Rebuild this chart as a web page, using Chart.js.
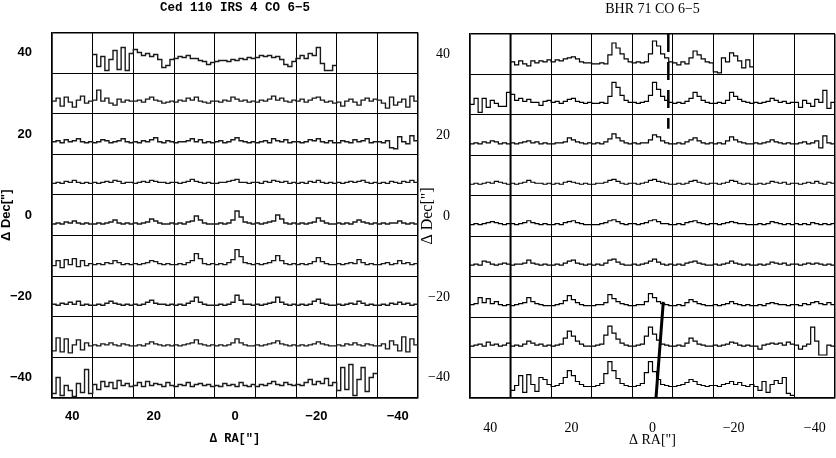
<!DOCTYPE html>
<html><head><meta charset="utf-8">
<script src="https://cdn.jsdelivr.net/npm/chart.js@4.4.1/dist/chart.umd.min.js"></script>
<style>html,body{margin:0;padding:0;background:#fff;overflow:hidden}canvas{position:absolute;top:0}#c1{left:0}#c2{left:420px}</style>
</head><body>
<canvas id="c1" width="420" height="458"></canvas>
<canvas id="c2" width="416" height="458"></canvas>
<script>
// ---- map geometry (arcsec offsets) ----
const RA_CENTERS = [40, 30, 20, 10, 0, -10, -20, -30, -40];
const DEC_CENTERS = [40, 30, 20, 10, 0, -10, -20, -30, -40];
const TICK_LABELS = [40, 20, 0, -20, -40];
const CHANNELS = 10;            // spectral channels per map cell
const T_SCALE = 0.2463;         // arcsec per intensity unit inside a cell
const T_BASE = -2.4;            // baseline offset of the spectrum inside a cell

// ---- Ced 110 IRS 4 CO 6-5 : spectra per map row (10 channels per cell) ----
const CED_START = [1, 0, 0, 0, 0, 0, 0, 0, 0];
const ced_dec40 = [
  8,-4,6,-8,3,12,-7,15,-8,9,  13,10,7,9,6,8,3,-5,-3,3,  4,6,5,7,4,4,2,1,-2,0,
  1,2,2,1,3,2,4,3,5,4,  5,7,6,7,5,6,3,-2,-4,1,  4,7,4,9,7,15,-1,-8,-8,-3];
const ced_dec30 = [
  2,5,-3,6,1,-4,3,7,0,2,  3,13,2,5,0,-2,4,1,3,2,  2,3,1,4,6,3,2,0,1,2,
  1,3,2,5,3,6,2,1,0,2,  2,1,3,2,6,4,2,3,1,2,  1,3,2,4,7,3,5,2,1,3,
  2,4,1,3,5,6,3,1,2,0,  1,-3,2,4,1,-2,3,5,2,4,  3,0,-5,6,-2,1,4,-4,7,2];
const ced_dec20 = [
  2,3,1,4,2,3,5,2,1,2,  1,2,4,3,1,2,3,5,2,1,  2,1,3,2,4,6,2,1,3,2,
  1,2,2,3,5,2,4,1,2,1,  2,3,1,2,4,6,3,2,1,2,  1,2,3,1,5,3,2,4,1,2,
  2,1,2,4,3,5,2,1,3,1,  1,3,2,1,4,2,3,5,1,2,  2,1,3,-4,-5,7,2,0,8,3];
const ced_dec10 = [
  1,2,1,3,2,4,2,1,2,1,  2,1,2,3,2,4,3,1,2,2,  1,2,3,2,4,3,2,2,1,2,
  2,1,2,3,5,3,2,1,2,1,  1,2,2,3,4,5,2,2,1,2,  2,1,3,2,4,3,2,3,1,2,
  1,2,1,3,2,4,2,1,2,1,  2,1,2,3,2,3,4,2,1,2,  1,2,1,3,2,1,3,2,4,2];
const ced_dec0 = [
  1,2,1,3,2,4,2,1,2,1,  1,2,1,2,3,5,2,1,2,1,  2,1,2,3,6,4,2,1,1,2,
  1,2,1,3,4,9,5,2,1,1,  1,2,1,2,5,14,8,3,2,1,  2,1,2,3,4,10,6,2,1,2,
  1,2,1,2,3,7,4,2,1,1,  2,1,2,1,3,5,3,2,1,2,  1,2,1,2,2,4,2,1,2,1];
const ced_decm10 = [
  0,5,-2,6,1,7,-1,5,0,2,  1,2,1,3,2,5,3,1,2,1,  2,1,2,3,5,4,2,1,2,1,
  1,2,1,3,5,12,7,2,1,2,  1,2,1,3,6,16,9,3,2,1,  2,1,2,3,5,10,5,2,1,2,
  1,2,1,2,4,8,4,2,1,1,  2,1,2,3,2,6,3,1,2,1,  1,2,3,1,2,5,2,3,1,2];
const ced_decm20 = [
  2,1,3,2,4,2,5,1,2,1,  1,2,1,3,5,3,2,1,2,1,  2,1,2,4,6,3,2,2,1,2,
  1,2,1,3,5,9,4,2,1,1,  1,2,1,2,4,11,6,2,2,1,  2,1,2,3,4,9,4,2,1,2,
  1,2,1,2,5,7,3,2,1,1,  2,1,2,3,2,5,3,1,2,1,  1,2,1,3,2,4,2,3,1,2];
const ced_decm30 = [
  -4,9,-5,8,-6,2,7,-3,4,1,  2,1,3,2,4,2,1,3,2,1,  1,2,1,3,5,3,2,1,2,1,
  2,1,2,3,4,7,3,2,1,2,  1,2,1,2,4,8,4,2,1,1,  2,1,2,3,4,6,3,2,1,2,
  1,2,1,2,3,5,3,2,1,1,  2,1,3,2,4,2,1,3,2,1,  1,3,-2,6,2,-4,10,-5,8,2];
const ced_decm40 = [
  -6,10,-8,2,-3,-9,4,-5,18,-6,  3,-2,6,1,5,-1,7,2,4,1,  2,5,1,6,2,4,3,1,5,2,
  1,3,2,5,1,3,4,2,3,1,  2,1,4,2,3,1,5,2,1,3,  1,3,2,4,6,3,2,5,3,2,
  3,2,5,8,3,6,4,9,2,5,  -3,20,-2,23,-8,8,20,-4,10,14];
const CED_ROWS = [ced_dec40, ced_dec30, ced_dec20, ced_dec10, ced_dec0, ced_decm10, ced_decm20, ced_decm30, ced_decm40];

// ---- BHR 71 CO 6-5 ----
const BHR_START = [1, 0, 0, 0, 0, 0, 0, 0, 1];
const bhr_dec40 = [
  2,-1,3,0,-2,3,1,3,2,4,  2,4,3,5,6,7,5,2,1,1,  0,0,1,0,9,21,16,10,5,2,
  1,2,1,2,10,23,18,10,6,2,  1,-1,2,0,6,13,9,5,2,1,  -8,-9,6,2,11,8,3,-4,4,-3];
const bhr_dec30 = [
  0,6,-8,6,-3,4,1,-2,-2,12,  10,4,6,3,5,2,2,-1,3,4,  2,3,1,3,5,6,3,2,1,2,
  1,1,2,1,8,22,17,9,4,2,  2,1,2,3,9,22,15,8,4,2,  1,2,1,3,6,12,8,4,2,1,
  1,2,1,4,12,8,5,3,2,1,  2,1,2,3,6,4,2,3,1,2,  2,-3,4,1,-2,5,2,14,-4,2];
const bhr_dec20 = [
  1,2,1,3,2,4,3,1,2,1,  2,1,2,3,4,2,3,1,2,1,  1,2,2,3,7,5,3,2,1,2,
  1,2,1,3,6,11,7,4,2,1,  2,1,2,2,5,10,8,4,2,1,  1,2,1,3,5,7,4,2,1,2,
  1,2,1,4,8,5,3,2,1,1,  2,1,2,3,5,3,2,1,2,1,  1,2,3,1,2,4,-3,9,2,1];
const bhr_dec10 = [
  1,2,1,2,3,2,4,3,2,1,  2,1,2,3,5,3,2,2,1,2,  1,2,1,3,4,3,2,1,2,1,
  1,2,2,3,5,6,4,2,1,2,  2,1,2,3,5,6,4,3,2,1,  1,2,1,2,4,5,3,2,1,2,
  2,1,2,3,5,4,2,1,2,1,  1,2,1,2,4,3,2,3,1,2,  2,1,2,3,2,4,2,1,3,2];
const bhr_dec0 = [
  1,2,1,2,3,4,3,2,1,2,  2,1,2,3,5,3,2,1,2,1,  1,2,1,3,4,5,3,2,1,1,
  1,1,2,3,5,6,4,2,1,2,  2,1,2,3,5,6,4,2,2,1,  1,2,1,3,4,5,3,2,1,2,
  2,1,2,3,4,3,2,2,1,1,  1,2,1,2,4,3,2,1,2,1,  2,1,2,1,3,2,1,2,1,2];
const bhr_decm10 = [
  1,2,1,5,4,2,1,2,3,2,  1,2,2,3,6,3,2,1,2,1,  1,2,1,3,5,6,3,2,1,2,
  1,2,1,3,6,7,4,2,1,1,  2,1,2,3,5,7,4,2,1,2,  1,2,1,3,4,5,3,2,1,1,
  2,1,2,3,5,3,2,1,2,1,  1,2,1,2,4,3,2,3,1,2,  2,1,2,3,2,3,2,1,2,1];
const bhr_decm20 = [
  2,3,9,4,8,3,5,2,1,2,  1,2,3,4,9,5,3,2,1,1,  1,2,3,6,11,7,4,2,1,1,
  1,2,2,4,12,8,5,3,2,1,  1,2,2,5,13,9,5,3,2,1,  1,2,1,4,7,5,3,2,1,1,
  2,1,2,3,5,3,2,1,2,1,  1,2,1,3,4,3,2,2,1,2,  2,1,3,2,4,5,3,2,4,2];
const bhr_decm30 = [
  1,2,3,1,5,2,3,1,2,4,  1,2,1,3,6,4,2,3,1,2,  1,2,3,9,16,11,6,3,1,1,
  1,2,3,12,21,14,8,4,2,1,  1,2,3,11,20,13,7,3,2,1,  1,2,1,4,9,6,3,2,1,1,
  2,1,2,3,5,4,2,1,2,1,  1,-2,2,3,4,3,4,2,5,3,  2,-2,1,3,20,6,-8,-8,2,1];
const bhr_decm40 = [
  -3,2,12,-5,13,3,-4,10,8,3,  1,2,4,10,17,12,6,3,1,1,
  1,2,4,14,26,17,9,4,2,1,  1,2,4,15,26,16,8,3,2,1,  1,2,3,5,8,6,3,2,1,2,
  2,1,3,4,6,3,5,2,1,3,  1,-3,6,-5,3,7,4,10,-6,-8];
const BHR_ROWS = [bhr_dec40, bhr_dec30, bhr_dec20, bhr_dec10, bhr_dec0, bhr_decm10, bhr_decm20, bhr_decm30, bhr_decm40];

// ---- overlay lines in the BHR 71 map (RA, Dec) ----
const BHR_SOLID_RA = [35, 35];      const BHR_SOLID_DEC = [45, -45];
const BHR_DASH_RA = [-3.9, -3.9];   const BHR_DASH_DEC = [45, 21.6];
const BHR_SLANT_RA = [-2.66, -0.86]; const BHR_SLANT_DEC = [-21.25, -45];

function rowPoints(dec, startCol, vals) {
  const pts = [];
  const nCells = vals.length / CHANNELS;
  for (let c = 0; c < nCells; c++) {
    const ra = RA_CENTERS[startCol + c];
    for (let k = 0; k < CHANNELS; k++) {
      pts.push({x: ra + 5 - k * 10 / CHANNELS, y: dec + T_BASE + vals[c * CHANNELS + k] * T_SCALE});
    }
  }
  pts.push({x: RA_CENTERS[startCol + nCells - 1] - 5, y: pts[pts.length - 1].y});
  return pts;
}
function pairs(xs, ys) { return xs.map((x, i) => ({x, y: ys[i]})); }
const fmt = v => (v < 0 ? '\u2212' + Math.abs(v) : String(v));
const isBoundary = v => Math.abs(Math.round(v)) % 10 === 5;
function allTicks(s) { const t = []; for (let v = -45; v <= 45; v += 5) t.push({value: v}); s.ticks = t; }

function makeChart(id, cfg) {
  const datasets = cfg.rows.map((vals, i) => ({
    data: rowPoints(DEC_CENTERS[i], cfg.start[i], vals),
    borderColor: cfg.lineColor, borderWidth: cfg.lineWidth, stepped: true,
    pointRadius: 0, fill: false, tension: 0
  })).concat(cfg.extra || []);
  const tickFont = cfg.tickFont;
  return new Chart(document.getElementById(id), {
    type: 'line',
    data: {datasets},
    options: {
      responsive: false, animation: false, devicePixelRatio: 1,
      layout: {padding: {left: 0, right: cfg.padRight, top: 0, bottom: 0}},
      plugins: {
        legend: {display: false}, tooltip: {enabled: false},
        title: {display: true, text: cfg.title, fullSize: false, color: '#000',
          font: cfg.titleFont, padding: {top: 2, bottom: 18}}
      },
      scales: {
        x: {type: 'linear', min: -45, max: 45, reverse: true,
          afterBuildTicks: allTicks,
          afterFit: s => { s.height = 60; },
          ticks: {autoSkip: false, maxRotation: 0, padding: cfg.xPad, color: '#000', font: tickFont,
            callback: v => TICK_LABELS.includes(v) ? fmt(v) : ''},
          grid: {drawTicks: false, color: c => isBoundary(c.tick.value) ? '#000' : 'rgba(0,0,0,0)',
            lineWidth: c => Math.abs(c.tick.value) === 45 ? 1.5 : 1},
          border: {display: true, color: '#000', width: 1.5},
          title: {display: true, text: 'Δ RA["]', color: '#000', font: cfg.axisFont,
            padding: {top: 0, bottom: cfg.xTitlePad}}
        },
        y: {type: 'linear', min: -45, max: 45,
          afterBuildTicks: allTicks,
          afterFit: s => { s.width = cfg.yWidth; },
          ticks: {autoSkip: false, padding: 20, color: '#000', font: tickFont,
            callback: v => TICK_LABELS.includes(v) ? fmt(v) : ''},
          grid: {drawTicks: false, color: c => isBoundary(c.tick.value) ? '#000' : 'rgba(0,0,0,0)',
            lineWidth: c => Math.abs(c.tick.value) === 45 ? 1.5 : 1},
          border: {display: true, color: '#000', width: 1.5},
          title: {display: true, text: 'Δ Dec["]', color: '#000', font: cfg.yAxisFont,
            padding: {top: 0, bottom: 0}}
        }
      }
    }
  });
}

makeChart('c1', {
  rows: CED_ROWS, start: CED_START, title: 'Ced 110 IRS 4 CO 6\u22125',
  lineColor: '#1a1a1a', lineWidth: 1.4, padRight: 2, yWidth: 52, xPad: 11, xTitlePad: 13,
  titleFont: {family: "'Liberation Mono', 'DejaVu Sans Mono', monospace", size: 12.5, weight: 'bold', lineHeight: 1},
  tickFont: {family: "'Liberation Sans', Arial, sans-serif", size: 13, weight: 'bold', lineHeight: 1.2},
  axisFont: {family: "'Liberation Mono', monospace", size: 12, weight: 'bold', lineHeight: 1},
  yAxisFont: {family: "'Liberation Sans', Arial, sans-serif", size: 13, weight: 'bold', lineHeight: 1}
});

makeChart('c2', {
  rows: BHR_ROWS, start: BHR_START, title: 'BHR 71 CO 6\u22125',
  lineColor: '#000', lineWidth: 1.2, padRight: 1, yWidth: 50, xPad: 22, xTitlePad: 11,
  titleFont: {family: "'Liberation Serif', 'Times New Roman', serif", size: 14, weight: 'normal', lineHeight: 1},
  tickFont: {family: "'Liberation Serif', 'Times New Roman', serif", size: 14, weight: 'normal', lineHeight: 1.2},
  axisFont: {family: "'Liberation Serif', serif", size: 14, weight: 'normal', lineHeight: 1},
  yAxisFont: {family: "'Liberation Serif', serif", size: 16, weight: 'normal', lineHeight: 1},
  extra: [
    {data: pairs(BHR_SOLID_RA, BHR_SOLID_DEC), borderColor: '#000', borderWidth: 2, pointRadius: 0},
    {data: pairs(BHR_DASH_RA, BHR_DASH_DEC), borderColor: '#000', borderWidth: 2.5, borderDash: [18, 10], pointRadius: 0},
    {data: pairs(BHR_SLANT_RA, BHR_SLANT_DEC), borderColor: '#000', borderWidth: 3, pointRadius: 0}
  ]
});
</script>
</body></html>
